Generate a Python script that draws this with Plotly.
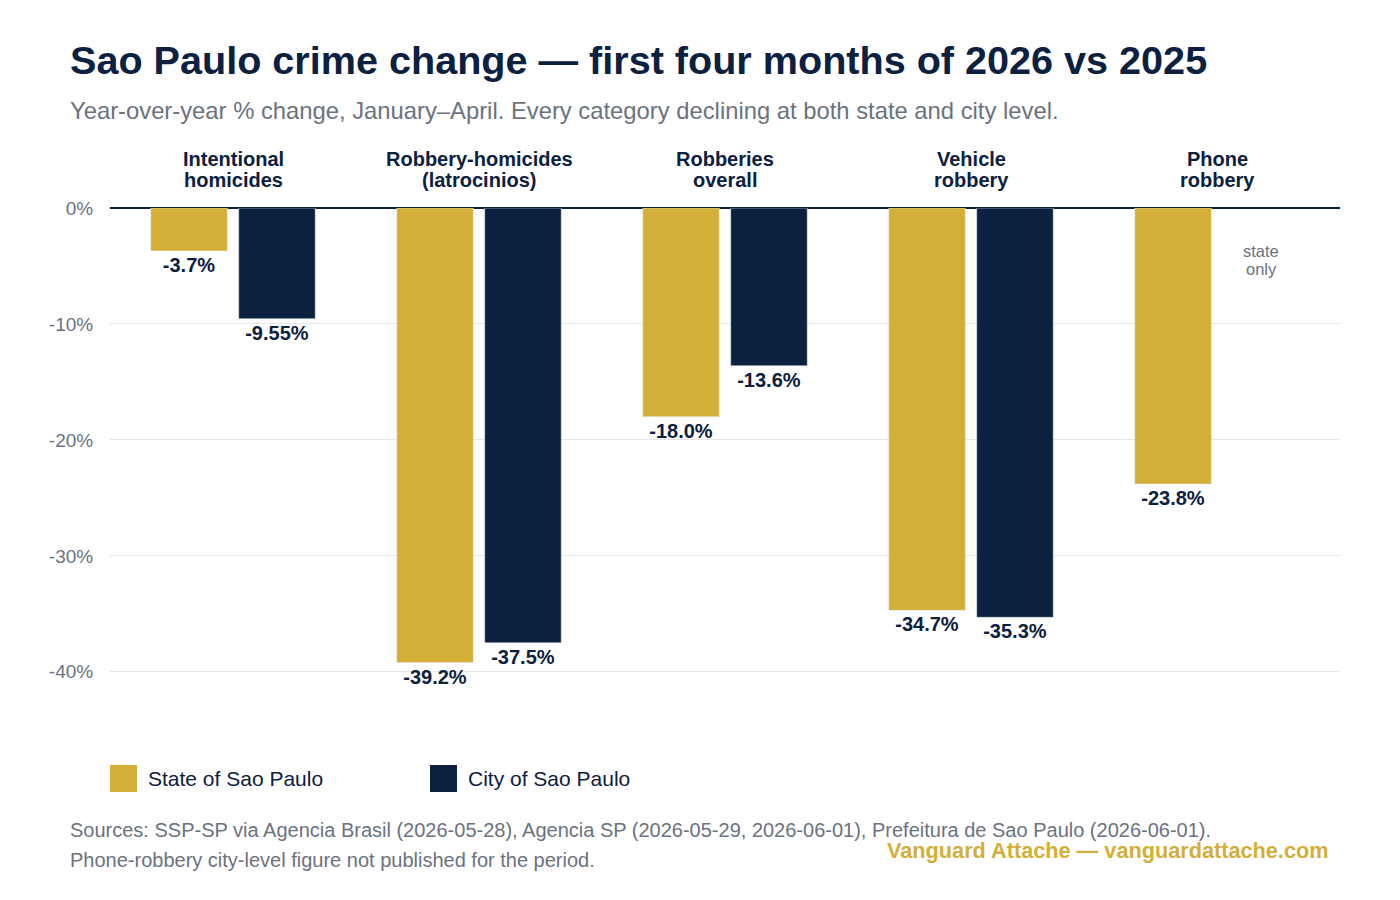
import plotly.graph_objects as go

categories = ["Intentional homicides", "Robbery-homicides (latrocinios)", "Robberies overall", "Vehicle robbery", "Phone robbery"]
cat_line1 = ["Intentional", "Robbery-homicides", "Robberies", "Vehicle", "Phone"]
cat_line2 = ["homicides", "(latrocinios)", "overall", "robbery", "robbery"]
state_vals = [-3.7, -39.2, -18.0, -34.7, -23.8]
city_vals = [-9.55, -37.5, -13.6, -35.3, None]
state_labels = ["-3.7%", "-39.2%", "-18.0%", "-34.7%", "-23.8%"]
city_labels = ["-9.55%", "-37.5%", "-13.6%", "-35.3%", ""]
yticks = [0, -10, -20, -30, -40]
ytick_text = ["0%", "-10%", "-20%", "-30%", "-40%"]

GOLD = "#D4AF37"
NAVY = "#0C2040"
GREY = "#6B7280"
FONT = "Liberation Sans"

fig = go.Figure()
fig.add_bar(x=categories, y=state_vals, name="State of Sao Paulo", marker_color=GOLD,
            text=state_labels, textposition="outside", cliponaxis=False,
            textfont=dict(family=FONT, size=20, color=NAVY, weight="bold"))
fig.add_bar(x=categories, y=city_vals, name="City of Sao Paulo", marker_color=NAVY,
            text=city_labels, textposition="outside", cliponaxis=False,
            textfont=dict(family=FONT, size=20, color=NAVY, weight="bold"))

fig.update_layout(
    width=1400, height=900, barmode="group", bargap=0.285, bargroupgap=0.13,
    plot_bgcolor="white", paper_bgcolor="white",
    margin=dict(l=102, r=68, t=200, b=213),
    font=dict(family=FONT, color=NAVY),
    showlegend=False,
    xaxis=dict(showticklabels=False, showline=False, ticks="", range=[-0.5, 4.5]),
    yaxis=dict(range=[-42, 0], tickvals=yticks, ticktext=ytick_text, showgrid=True,
               gridcolor="#E6E6E6", zeroline=True, zerolinecolor=NAVY, zerolinewidth=2,
               tickfont=dict(family=FONT, size=19, color=GREY), ticklen=12, ticks="outside", tickcolor="white"),
)

def px(xp, yp):
    return (xp - 110) / 1230, 1 - (yp - 208) / 487

ann = [
    dict(x=68, y=60, text="<b>Sao Paulo crime change — first four months of 2026 vs 2025</b>", size=39.6, color=NAVY),
    dict(x=68, y=110, text="Year-over-year % change, January–April. Every category declining at both state and city level.", size=23.8, color=GREY),
    dict(x=68, y=830, text="Sources: SSP-SP via Agencia Brasil (2026-05-28), Agencia SP (2026-05-29, 2026-06-01), Prefeitura de Sao Paulo (2026-06-01).", size=20, color=GREY),
    dict(x=68, y=860, text="Phone-robbery city-level figure not published for the period.", size=20, color=GREY),
    dict(x=146, y=778, text="State of Sao Paulo", size=21, color=NAVY),
    dict(x=466, y=778, text="City of Sao Paulo", size=21, color=NAVY),
]
for a in ann:
    x, y = px(a["x"], a["y"])
    fig.add_annotation(xref="paper", yref="paper", x=x, y=y, xanchor="left", yanchor="middle",
                       text=a["text"], showarrow=False, font=dict(family=FONT, size=a["size"], color=a["color"]))
x, y = px(1331, 850)
fig.add_annotation(xref="paper", yref="paper", x=x, y=y, xanchor="right", yanchor="middle", showarrow=False,
                   text="<b>Vanguard Attache — vanguardattache.com</b>", font=dict(family=FONT, size=21.7, color=GOLD))

for cat, l1, l2 in zip(categories, cat_line1, cat_line2):
    for line, yp in ((l1, 159), (l2, 180)):
        fig.add_annotation(x=cat, yref="paper", y=px(0, yp)[1], yanchor="middle", text=f"<b>{line}</b>",
                           showarrow=False, font=dict(family=FONT, size=20, color=NAVY))

for line, yp in (("state", 251), ("only", 269)):
    fig.add_annotation(x=categories[4], xshift=44, yref="paper", y=px(0, yp)[1], yanchor="middle", text=line,
                       showarrow=False, font=dict(family=FONT, size=16.5, color=GREY))

for x0, col in ((110, GOLD), (430, NAVY)):
    a0, b0 = px(x0, 792)
    a1, b1 = px(x0 + 27, 765)
    fig.add_shape(type="rect", xref="paper", yref="paper", x0=a0, x1=a1, y0=b0, y1=b1,
                  fillcolor=col, line_width=0)

fig.write_html("out.html")
